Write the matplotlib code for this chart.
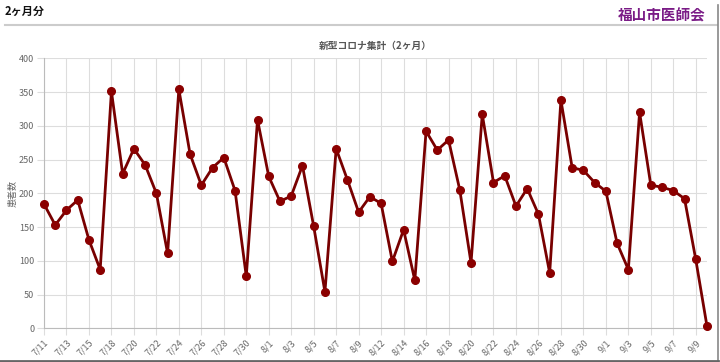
import matplotlib.pyplot as plt
from matplotlib.lines import Line2D

plt.rcParams['font.family'] = ['Noto Sans CJK JP', 'DejaVu Sans']

# dates (one per point); only every other one is shown on the axis
dates = ['7/11', '7/12', '7/13', '7/14', '7/15', '7/16', '7/18', '7/19', '7/20', '7/21',
         '7/22', '7/23', '7/24', '7/25', '7/26', '7/27', '7/28', '7/29', '7/30', '7/31',
         '8/1', '8/2', '8/3', '8/4', '8/5', '8/6', '8/7', '8/8', '8/9', '8/10',
         '8/12', '8/13', '8/14', '8/15', '8/16', '8/17', '8/18', '8/19', '8/20', '8/21',
         '8/22', '8/23', '8/24', '8/25', '8/26', '8/27', '8/28', '8/29', '8/30', '8/31',
         '9/1', '9/2', '9/3', '9/4', '9/5', '9/6', '9/7', '9/8', '9/9', '9/10']

patients = [184, 153, 175, 190, 131, 87, 351, 229, 266, 242,
            200, 111, 354, 258, 212, 238, 253, 204, 77, 309,
            225, 188, 196, 241, 151, 54, 266, 220, 172, 195,
            185, 99, 146, 71, 292, 264, 279, 205, 97, 317,
            216, 226, 181, 207, 169, 82, 338, 238, 234, 216,
            203, 126, 87, 320, 212, 209, 204, 192, 102, 3]

y_ticks = [0, 50, 100, 150, 200, 250, 300, 350, 400]

fig = plt.figure(figsize=(7.2, 3.62), dpi=100)

# page header
fig.text(5 / 720, 1 - 11 / 362, '2ヶ月分', fontsize=8, fontweight='bold',
         color='#111111', ha='left', va='center')
fig.text(706 / 720, 1 - 15 / 362, '福山市医師会', fontsize=10.5, fontweight='bold',
         color='#7a1b86', ha='right', va='center')
fig.add_artist(Line2D([5 / 720, 717 / 720], [1 - 25 / 362] * 2, color='#cccccc', lw=1.5))
fig.add_artist(Line2D([718 / 720] * 2, [1 - 5 / 362, 0], color='#888888', lw=1.2))
fig.add_artist(Line2D([0, 718 / 720], [1 - 360.5 / 362] * 2, color='#666666', lw=2))

ax = fig.add_axes([44 / 720, 33.7 / 362, 663 / 720, 270 / 362])

x = list(range(len(patients)))
ax.plot(x, patients, color='#780000', lw=2.0, marker='o', markersize=5.5,
        markerfacecolor='#8b0000', markeredgecolor='#8b0000',
        solid_joinstyle='miter', clip_on=False, zorder=3)

ax.set_xlim(0, len(patients) - 1)
ax.set_ylim(0, 400)
ax.set_yticks(y_ticks)
ax.set_xticks(x[::2])
ax.set_xticklabels(dates[::2], rotation=45, ha='right', rotation_mode='anchor')
ax.tick_params(axis='both', labelsize=6.5, labelcolor='#666666', color='#dddddd',
               length=5, width=0.8, pad=2)
ax.grid(True, color='#dddddd', lw=0.8)
ax.set_axisbelow(True)
for side in ['top', 'right']:
    ax.spines[side].set_visible(False)
ax.spines['left'].set_color('#bbbbbb')
ax.spines['bottom'].set_color('#bbbbbb')

ax.set_ylabel('患者数', fontsize=6.5, color='#666666', labelpad=1)
ax.set_title('新型コロナ集計（2ヶ月）', fontsize=7, fontweight='bold',
             color='#555555', pad=7)

fig.savefig('out.png', dpi=100)
